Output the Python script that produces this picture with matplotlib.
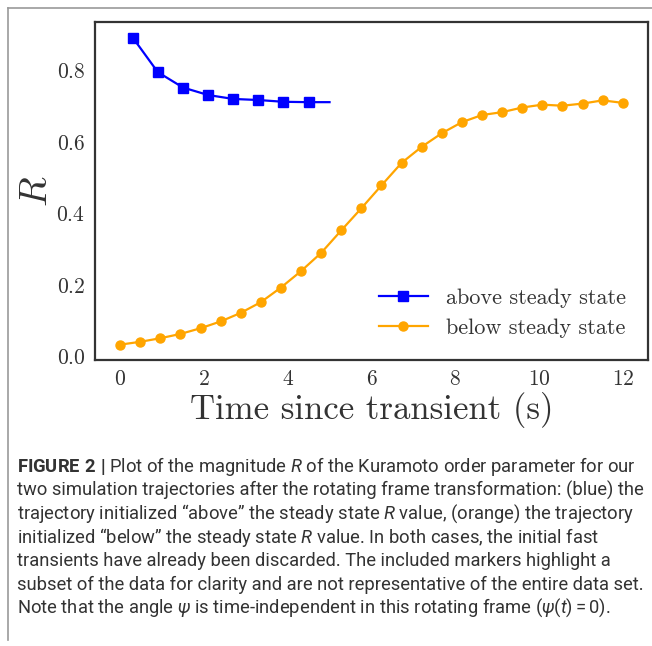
import matplotlib
matplotlib.use("Agg")
from matplotlib import pyplot as plt
from matplotlib.lines import Line2D
import matplotlib.font_manager as fm

# data
t_above = [0.3, 0.9, 1.5, 2.1, 2.7, 3.3, 3.9, 4.5, 5.0]
r_above = [0.893, 0.796, 0.753, 0.732, 0.721, 0.718, 0.713, 0.712, 0.712]
marks_above = list(range(8))

t_below = [0.0, 0.48, 0.96, 1.44, 1.92, 2.40, 2.88, 3.36, 3.84, 4.32, 4.80, 5.28, 5.76,
           6.24, 6.72, 7.20, 7.68, 8.16, 8.64, 9.12, 9.60, 10.08, 10.56, 11.04, 11.52, 12.0]
r_below = [0.033, 0.041, 0.051, 0.063, 0.079, 0.098, 0.122, 0.152, 0.193, 0.239, 0.290,
           0.353, 0.415, 0.479, 0.542, 0.587, 0.625, 0.656, 0.676, 0.684, 0.697, 0.705,
           0.702, 0.708, 0.717, 0.710]

labels = ["above steady state", "below steady state"]

caption = [
    r"$\mathbf{FIGURE\ 2\ |}$ Plot of the magnitude $R$ of the Kuramoto order parameter for our",
    "two simulation trajectories after the rotating frame transformation: (blue) the",
    "trajectory initialized \u201cabove\u201d the steady state $R$ value, (orange) the trajectory",
    "initialized \u201cbelow\u201d the steady state $R$ value. In both cases, the initial fast",
    "transients have already been discarded. The included markers highlight a",
    "subset of the data for clarity and are not representative of the entire data set.",
    r"Note that the angle $\psi$ is time-independent in this rotating frame ($\psi(t) = 0$).",
]

names = {f.name for f in fm.fontManager.ttflist}
cap_font = "Liberation Sans Narrow" if "Liberation Sans Narrow" in names else "Roboto"

plt.rcParams["font.family"] = "serif"
plt.rcParams["font.serif"] = ["cmr10"]
plt.rcParams["axes.formatter.use_mathtext"] = True
plt.rcParams["mathtext.fontset"] = "custom"
plt.rcParams["mathtext.rm"] = cap_font
plt.rcParams["mathtext.it"] = cap_font + ":italic"
plt.rcParams["mathtext.bf"] = cap_font + ":bold"

fig = plt.figure(figsize=(6.52, 6.46), dpi=100)
ax = fig.add_axes([0.1457, 0.4427, 0.848, 0.523])

ax.plot(t_above, r_above, color="#0000ff", lw=1.6, marker="s", ms=6.5,
        markevery=marks_above, label=labels[0])
ax.plot(t_below, r_below, color="#ffa500", lw=1.6, marker="o", ms=6.5,
        label=labels[1])

ax.set_xticks([0, 2, 4, 6, 8, 10, 12])
ax.set_yticks([0.0, 0.2, 0.4, 0.6, 0.8])
ax.tick_params(length=0, labelsize=15.5, labelcolor="#333333", pad=7)
for s in ax.spines.values():
    s.set_color("#333333")
    s.set_linewidth(1.6)

ax.set_xlabel("Time since transient (s)", fontsize=25, color="#333333", labelpad=2)
ax.set_ylabel(r"$R$", fontsize=28, color="#333333", math_fontfamily="cm", labelpad=1)

leg = ax.legend(loc="lower right", frameon=False, fontsize=16, handlelength=2.2,
                handletextpad=0.8, labelspacing=0.45, borderaxespad=0.6)
for tx in leg.get_texts():
    tx.set_color("#333333")

# outer frame
fig.add_artist(Line2D([7.5 / 652, 7.5 / 652], [0.01, 1 - 7.5 / 646],
                      transform=fig.transFigure, color="#999999", lw=1.2))
fig.add_artist(Line2D([7.5 / 652, 1.0], [1 - 7.5 / 646, 1 - 7.5 / 646],
                      transform=fig.transFigure, color="#999999", lw=1.2))

# caption
y0 = 467
for i, line in enumerate(caption):
    fig.text(17 / 652, 1 - (y0 + i * 23.5) / 646, line, fontsize=13.2,
             family=cap_font, color="#333333", va="center", ha="left")

fig.savefig("out.png", dpi=100)
